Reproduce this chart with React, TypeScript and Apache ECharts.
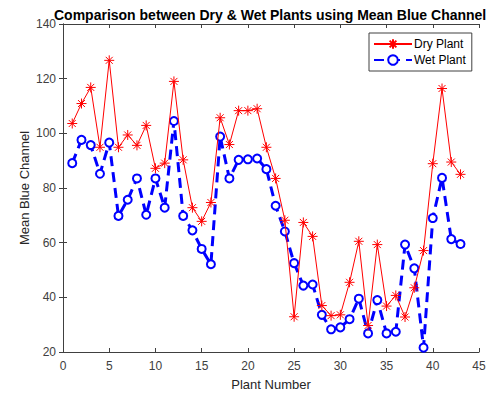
import React, { useEffect, useRef } from "react";
import * as echarts from "echarts";

const plantNumbers = Array.from({ length: 43 }, (_, i) => i + 1);
const dryPlant = [
  103.6, 110.9, 116.8, 94.9, 126.7, 94.9, 99.4, 95.6, 102.9, 87.2,
  89.1, 119.0, 90.3, 72.8, 67.8, 74.7, 105.7, 95.9, 108.3, 108.3,
  109.0, 94.9, 83.5, 68.2, 32.9, 67.4, 62.3, 37.0, 33.3, 33.6,
  45.5, 60.5, 29.7, 59.3, 36.8, 40.7, 32.8, 43.5, 57.1, 88.9,
  116.4, 89.5, 85.0,
];
const wetPlant = [
  89.1, 97.6, 95.7, 85.2, 96.6, 69.8, 75.7, 83.5, 70.2, 83.5,
  72.8, 104.5, 69.8, 64.5, 57.7, 52.1, 98.8, 83.5, 90.3, 90.5,
  90.8, 86.9, 73.5, 64.1, 52.5, 44.3, 44.7, 33.6, 28.3, 29.0,
  32.0, 39.5, 26.8, 39.0, 26.8, 27.4, 59.3, 50.6, 21.6, 69.0,
  83.7, 61.3, 59.5,
];

const FONT = "'Liberation Sans', Arial, sans-serif";
const STAR = "path://M0,-5L0,5M-5,0L5,0M-3.5,-3.5L3.5,3.5M-3.5,3.5L3.5,-3.5";

export default function App() {
  const ref = useRef<HTMLDivElement>(null);
  useEffect(() => {
    const chart = echarts.init(ref.current!, null, { renderer: "svg" });
    const axisLine = { show: true, lineStyle: { color: "#404040", width: 1 } };
    const tick = { show: true, inside: true, length: 4, lineStyle: { color: "#404040" } };
    chart.setOption({
      animation: false,
      backgroundColor: "#ffffff",
      title: {
        text: "Comparison between Dry & Wet Plants using Mean Blue Channel",
        left: 49,
        top: 3,
        textStyle: { fontFamily: FONT, fontSize: 14, fontWeight: "bold", color: "#000" },
      },
      grid: { left: 63, right: 13, top: 24, bottom: 43, containLabel: false },
      legend: {
        left: 369,
        top: 33,
        orient: "vertical",
        backgroundColor: "#fff",
        borderColor: "#404040",
        borderWidth: 1,
        borderRadius: 0,
        padding: [5, 6, 5, 4],
        itemGap: 4,
        itemWidth: 38,
        itemHeight: 12,
        textStyle: { fontFamily: FONT, fontSize: 12, color: "#000", padding: [0, 0, 0, -3] },
        data: ["Dry Plant", "Wet Plant"],
      },
      xAxis: [
        {
          type: "value",
          min: 0,
          max: 45,
          interval: 5,
          name: "Plant Number",
          nameLocation: "middle",
          nameGap: 26,
          nameMoveOverlap: false,
          nameTextStyle: { fontFamily: FONT, fontSize: 13, color: "#262626" },
          axisLine,
          axisTick: tick,
          splitLine: { show: false },
          axisLabel: { fontFamily: FONT, fontSize: 12, color: "#404040", margin: 8 },
        },
        {
          type: "value",
          position: "top",
          min: 0,
          max: 45,
          interval: 5,
          axisLine,
          axisTick: tick,
          splitLine: { show: false },
          axisLabel: { show: false },
        },
      ],
      yAxis: [
        {
          type: "value",
          min: 20,
          max: 140,
          interval: 20,
          name: "Mean Blue Channel",
          nameLocation: "middle",
          nameGap: 32,
          nameMoveOverlap: false,
          nameTextStyle: { fontFamily: FONT, fontSize: 13, color: "#262626" },
          axisLine,
          axisTick: tick,
          splitLine: { show: false },
          axisLabel: { fontFamily: FONT, fontSize: 12, color: "#404040", margin: 7 },
        },
        {
          type: "value",
          position: "right",
          min: 20,
          max: 140,
          interval: 20,
          axisLine,
          axisTick: tick,
          splitLine: { show: false },
          axisLabel: { show: false },
        },
      ],
      series: [
        {
          name: "Dry Plant",
          type: "line",
          data: plantNumbers.map((x, i) => [x, dryPlant[i]]),
          symbol: STAR,
          symbolSize: 10,
          showAllSymbol: true,
          lineStyle: { color: "#ff0000", width: 1 },
          itemStyle: { color: "#ff0000", borderColor: "#ff0000", borderWidth: 1 },
          z: 3,
        },
        {
          name: "Wet Plant",
          type: "line",
          data: plantNumbers.map((x, i) => [x, wetPlant[i]]),
          symbol: "emptyCircle",
          symbolSize: 8,
          showAllSymbol: true,
          lineStyle: { color: "#0000ff", width: 3, type: [10, 6] },
          itemStyle: { color: "#0000ff", borderColor: "#0000ff", borderWidth: 2.5 },
          z: 2,
        },
      ],
    });
    return () => chart.dispose();
  }, []);
  return (
    <div
      ref={ref}
      style={{ position: "absolute", left: 0, top: 0, width: 492, height: 396 }}
    />
  );
}
